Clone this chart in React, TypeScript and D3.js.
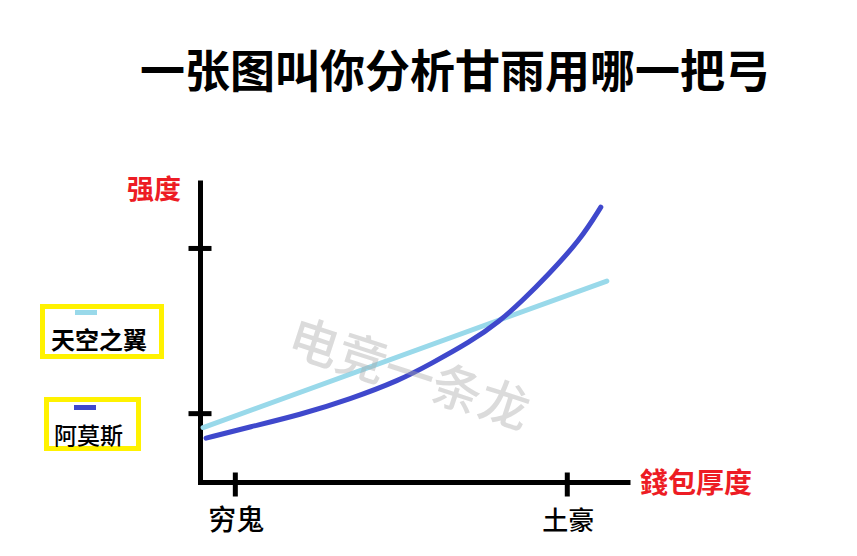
import React from "react";
import * as d3 from "d3";

const W = 857;
const H = 556;

const title = "一张图叫你分析甘雨用哪一把弓";
const yLabel = "强度";
const xLabel = "錢包厚度";
const watermark = "电竞一条龙";

const xTickValues = [8.1, 85.3];
const xTickLabels = ["穷鬼", "土豪"];
const yTickValues = [22.8, 77.5];

const seriesNames = ["天空之翼", "阿莫斯"];
const seriesColors = ["#99d9ea", "#3f48cc"];

const skywardX = [0.6, 94.5];
const skywardY = [18.2, 66.7];

const amosX = [1.3, 11.5, 23.1, 34.8, 46.4, 53.4, 62.7, 69.7, 75.0, 80.6, 88.3, 93.1];
const amosY = [14.7, 18.4, 22.4, 27.6, 33.9, 39.2, 46.5, 53.5, 60.4, 68.4, 80.3, 91.2];

export default function App() {
  const x = d3.scaleLinear().domain([0, 100]).range([200.5, 630.5]);
  const y = d3.scaleLinear().domain([0, 100]).range([482.5, 180.5]);

  const line = d3
    .line<[number, number]>()
    .x((d) => x(d[0]))
    .y((d) => y(d[1]))
    .curve(d3.curveBasis);

  const skyward: [number, number][] = skywardX.map((v, i) => [v, skywardY[i]]);
  const amos: [number, number][] = amosX.map((v, i) => [v, amosY[i]]);

  const font = "'Noto Sans CJK SC', 'Noto Sans', sans-serif";

  return (
    <svg
      width={W}
      height={H}
      viewBox={`0 0 ${W} ${H}`}
      style={{ position: "absolute", left: 0, top: 0, background: "#fff" }}
    >
      <rect x={0} y={0} width={W} height={H} fill="#fff" />
      <text
        x={455}
        y={88}
        textAnchor="middle"
        fontFamily={font}
        fontWeight={700}
        fontSize={45}
        fill="#000"
      >
        {title}
      </text>

      {/* axes */}
      <line x1={x(0)} x2={x(0)} y1={y(100)} y2={y(0) + 2.5} stroke="#000" strokeWidth={5} />
      <line x1={x(0) - 2.5} x2={x(100)} y1={y(0)} y2={y(0)} stroke="#000" strokeWidth={5} />
      {yTickValues.map((v, i) => (
        <line key={"yt" + i} x1={x(0) - 12} x2={x(0) + 11} y1={y(v)} y2={y(v)} stroke="#000" strokeWidth={5} />
      ))}
      {xTickValues.map((v, i) => (
        <line key={"xt" + i} x1={x(v)} x2={x(v)} y1={y(0) - 10} y2={y(0) + 14} stroke="#000" strokeWidth={5} />
      ))}
      {xTickValues.map((v, i) => (
        <text
          key={"xl" + i}
          x={x(v) + 1}
          y={530}
          textAnchor="middle"
          fontFamily={font}
          fontWeight={500}
          fontSize={i === 0 ? 28 : 26}
          fill="#000"
        >
          {xTickLabels[i]}
        </text>
      ))}

      <text x={127} y={199} fontFamily={font} fontWeight={700} fontSize={27} fill="#ed1c24">
        {yLabel}
      </text>
      <text x={640} y={493} fontFamily={font} fontWeight={700} fontSize={28} fill="#ed1c24">
        {xLabel}
      </text>

      {/* series */}
      <path d={line(skyward) || ""} fill="none" stroke={seriesColors[0]} strokeWidth={5} strokeLinecap="round" />
      <path d={line(amos) || ""} fill="none" stroke={seriesColors[1]} strokeWidth={5} strokeLinecap="round" />

      {/* watermark */}
      <text
        x={0}
        y={0}
        transform="translate(404,391) rotate(18)"
        textAnchor="middle"
        fontFamily={font}
        fontWeight={500}
        fontSize={50}
        fill="#aaaaaa"
        fillOpacity={0.42}
      >
        {watermark}
      </text>

      {/* legend */}
      <g>
        <rect x={42.5} y={306.5} width={119} height={50} fill="#fff" stroke="#fff200" strokeWidth={5} />
        <rect x={75} y={310} width={22} height={5} fill={seriesColors[0]} />
        <text x={51} y={349} fontFamily={font} fontWeight={700} fontSize={24} fill="#000">
          {seriesNames[0]}
        </text>
      </g>
      <g>
        <rect x={46.5} y={399.5} width={92} height={49} fill="#fff" stroke="#fff200" strokeWidth={5} />
        <rect x={74} y={405} width={22} height={5} fill={seriesColors[1]} />
        <text x={54} y={444} fontFamily={font} fontWeight={500} fontSize={23} fill="#000">
          {seriesNames[1]}
        </text>
      </g>
    </svg>
  );
}
